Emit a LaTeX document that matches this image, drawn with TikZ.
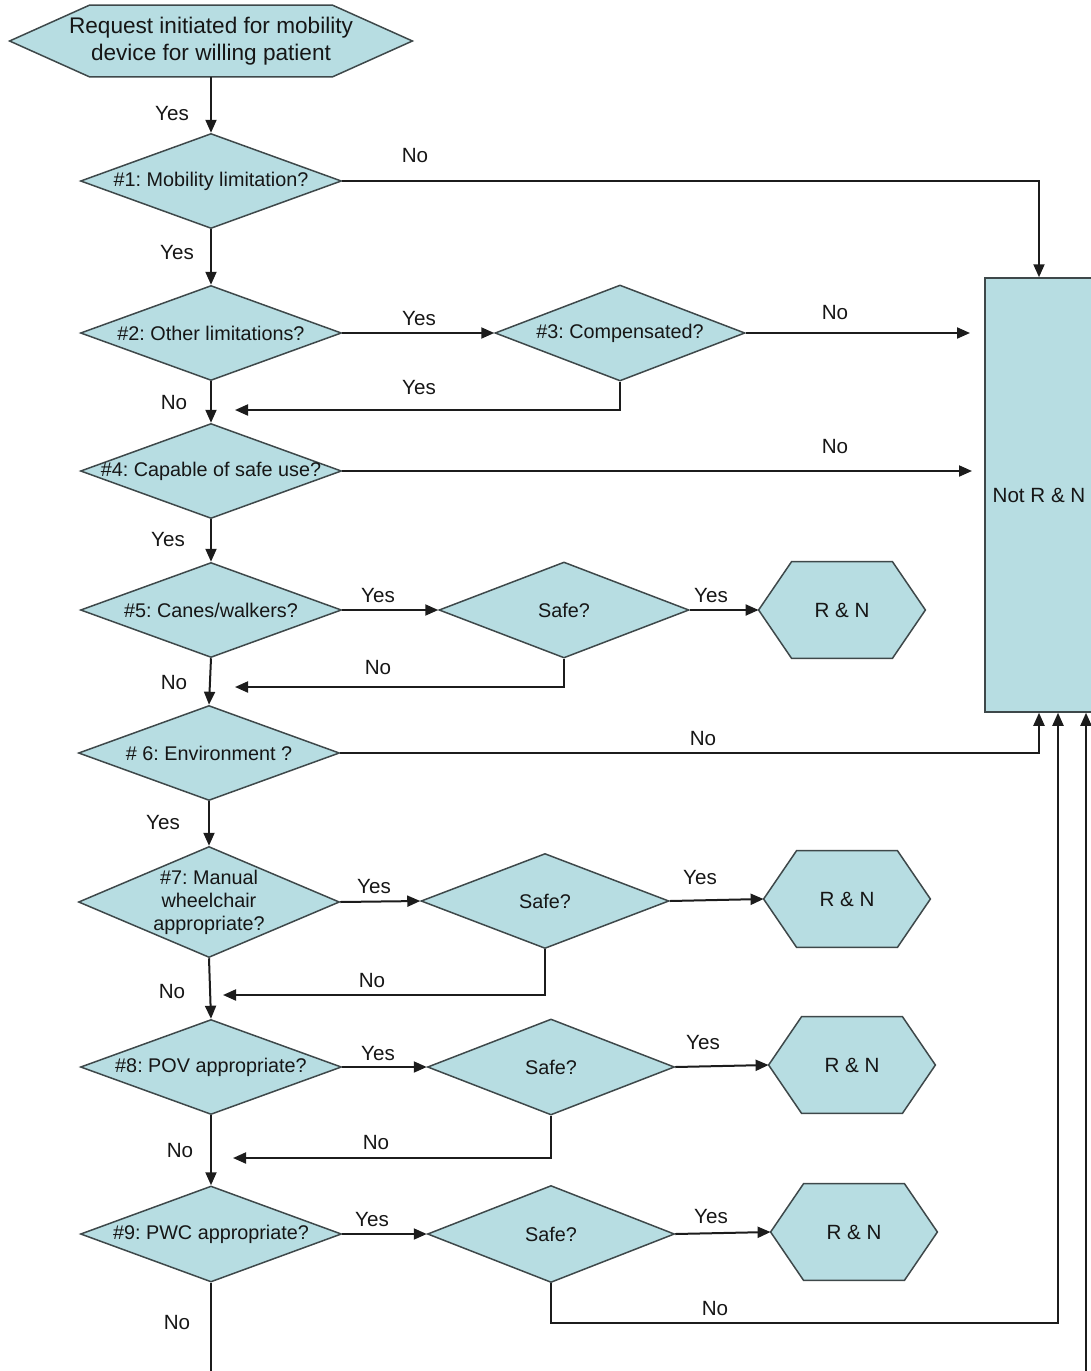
\documentclass[tikz,border=0pt]{standalone}
\usepackage{fontspec}
\setmainfont{Liberation Sans}
\usetikzlibrary{shapes.geometric,arrows.meta,backgrounds}
\definecolor{aqua}{RGB}{183,221,226}
\definecolor{bord}{RGB}{62,72,74}
\definecolor{linec}{RGB}{28,28,28}
\definecolor{txt}{RGB}{22,22,22}
\frenchspacing
\begin{document}
\begin{tikzpicture}[x=0.5pt,y=-0.5pt,
  dec/.style={diamond,draw=bord,fill=aqua,line width=0.75pt,inner sep=0pt,
    minimum width=130.5pt,minimum height=47.5pt},
  dtext/.style={font=\fontsize{9.9}{11.5}\selectfont,text=txt,align=center,inner sep=0pt},
  lab/.style={font=\fontsize{10.3}{12}\selectfont,text=txt,inner sep=0pt},
  hexnode/.style={rectangle,inner sep=0pt,font=\fontsize{10.3}{12}\selectfont,text=txt,
    minimum width=83pt,minimum height=48pt},
  hexfill/.style={fill=aqua,draw=bord,line width=0.75pt},
  conn/.style={draw=linec,line width=1pt,-{Triangle[length=6.5pt,width=5.5pt]}},
  plainline/.style={draw=linec,line width=1pt},
]
\useasboundingbox (0,0) rectangle (1091,1371);

% start
\node[rectangle,inner sep=0pt,minimum width=201pt,minimum height=35.5pt,
  font=\fontsize{11.3}{13.5}\selectfont,text=txt,align=center] (start) at (211,41)
  {Request initiated for mobility\\device for willing patient};

% decisions
\node[dec,label={[dtext]center:{\#1: Mobility limitation?}}] (d1) at (211,181) {};
\node[dec,label={[dtext]center:{\#2: Other limitations?}}] (d2) at (211,333) {};
\node[dec,minimum width=125pt,minimum height=48pt,label={[dtext]center:{\#3: Compensated?}}] (d3) at (620,333) {};
\node[dec,label={[dtext]center:{\#4: Capable of safe use?}}] (d4) at (211,471) {};
\node[dec,label={[dtext]center:{\#5: Canes/walkers?}}] (d5) at (211,610) {};
\node[dec,minimum width=125pt,minimum height=48pt,label={[dtext]center:{Safe?}}] (s1) at (564,610) {};
\node[dec,label={[dtext]center:{\# 6: Environment ?}}] (d6) at (209,753) {};
\node[dec,minimum height=55.5pt,label={[dtext]center:{\#7: Manual\\wheelchair\\appropriate?}}] (d7) at (209,902) {};
\node[dec,minimum width=124pt,minimum height=47.5pt,label={[dtext]center:{Safe?}}] (s2) at (545,901) {};
\node[dec,label={[dtext]center:{\#8: POV appropriate?}}] (d8) at (211,1067) {};
\node[dec,minimum width=123.5pt,minimum height=48pt,label={[dtext]center:{Safe?}}] (s3) at (551,1067) {};
\node[dec,minimum height=48pt,label={[dtext]center:{\#9: PWC appropriate?}}] (d9) at (211,1234) {};
\node[dec,minimum width=123.5pt,minimum height=48.5pt,label={[dtext]center:{Safe?}}] (s4) at (551,1234) {};

% R & N hexagons
\node[hexnode] (rn1) at (842,610) {R \& N};
\node[hexnode] (rn2) at (847,899) {R \& N};
\node[hexnode] (rn3) at (852,1065) {R \& N};
\node[hexnode] (rn4) at (854,1232) {R \& N};

% Not R & N box
\node[rectangle,draw=bord,fill=aqua,line width=0.75pt,inner sep=0pt,
  minimum width=54pt,minimum height=217pt,font=\fontsize{10.3}{12}\selectfont,text=txt]
  (box) at (1039,495) {Not R \& N};

\begin{scope}[on background layer]
  \filldraw[hexfill] (start.west) -- ([xshift=40pt]start.north west) -- ([xshift=-40pt]start.north east)
    -- (start.east) -- ([xshift=-40pt]start.south east) -- ([xshift=40pt]start.south west) -- cycle;
  \foreach \n in {rn1,rn2,rn3,rn4}
    \filldraw[hexfill] (\n.west) -- ([xshift=16.5pt]\n.north west) -- ([xshift=-16.5pt]\n.north east)
      -- (\n.east) -- ([xshift=-16.5pt]\n.south east) -- ([xshift=16.5pt]\n.south west) -- cycle;
\end{scope}

% free-end coordinates
\coordinate (b3) at (970,333);
\coordinate (b4) at (972,471);
\coordinate (r3) at (235,410);
\coordinate (r5) at (235,687);
\coordinate (r7) at (223,995);
\coordinate (r8) at (233,1158);
\coordinate (k1) at (1058,1323);
\coordinate (e9) at (211,1385);
\coordinate (e10) at (1086,1385);

% connectors
\draw[conn] (start.south) -- (d1.north);
\draw[conn] (d1.east) -| (box.north);
\draw[conn] (d1.south) -- (d2.north);
\draw[conn] (d2.east) -- (d3.west);
\draw[conn] (d3.east) -- (b3);
\draw[conn] (d3.south) |- (r3);
\draw[conn] (d2.south) -- (d4.north);
\draw[conn] (d4.east) -- (b4);
\draw[conn] (d4.south) -- (d5.north);
\draw[conn] (d5.east) -- (s1.west);
\draw[conn] (s1.east) -- (rn1.west);
\draw[conn] (s1.south) |- (r5);
\draw[conn] (d5.south) -- (d6.north);
\draw[conn] (d6.east) -| (box.south);
\draw[conn] (d6.south) -- (d7.north);
\draw[conn] (d7.east) -- (s2.west);
\draw[conn] (s2.east) -- (rn2.west);
\draw[conn] (s2.south) |- (r7);
\draw[conn] (d7.south) -- (d8.north);
\draw[conn] (d8.east) -- (s3.west);
\draw[conn] (s3.east) -- (rn3.west);
\draw[conn] (s3.south) |- (r8);
\draw[conn] (d8.south) -- (d9.north);
\draw[conn] (d9.east) -- (s4.west);
\draw[conn] (s4.east) -- (rn4.west);
\draw[conn] (s4.south) |- (k1) -- (k1 |- box.south);
\draw[plainline] (d9.south) -- (e9);
\draw[conn] (e10) -- (e10 |- box.south);

% labels
\node[lab] (l1) at (172,114) {Yes};
\node[lab] (l2) at (415,156) {No};
\node[lab] (l3) at (177,253) {Yes};
\node[lab] (l4) at (419,319) {Yes};
\node[lab] (l5) at (835,313) {No};
\node[lab] (l6) at (419,388) {Yes};
\node[lab] (l7) at (174,403) {No};
\node[lab] (l8) at (835,447) {No};
\node[lab] (l9) at (168,540) {Yes};
\node[lab] (l10) at (378,596) {Yes};
\node[lab] (l11) at (711,596) {Yes};
\node[lab] (l12) at (378,668) {No};
\node[lab] (l13) at (174,683) {No};
\node[lab] (l14) at (703,739) {No};
\node[lab] (l15) at (163,823) {Yes};
\node[lab] (l16) at (374,887) {Yes};
\node[lab] (l17) at (700,878) {Yes};
\node[lab] (l18) at (372,981) {No};
\node[lab] (l19) at (172,992) {No};
\node[lab] (l20) at (378,1053) {Yes};
\node[lab] (l21) at (703,1043) {Yes};
\node[lab] (l22) at (376,1142) {No};
\node[lab] (l23) at (180,1150) {No};
\node[lab] (l24) at (372,1219) {Yes};
\node[lab] (l25) at (711,1216) {Yes};
\node[lab] (l26) at (715,1308) {No};
\node[lab] (l27) at (177,1322) {No};
\end{tikzpicture}
\end{document}
